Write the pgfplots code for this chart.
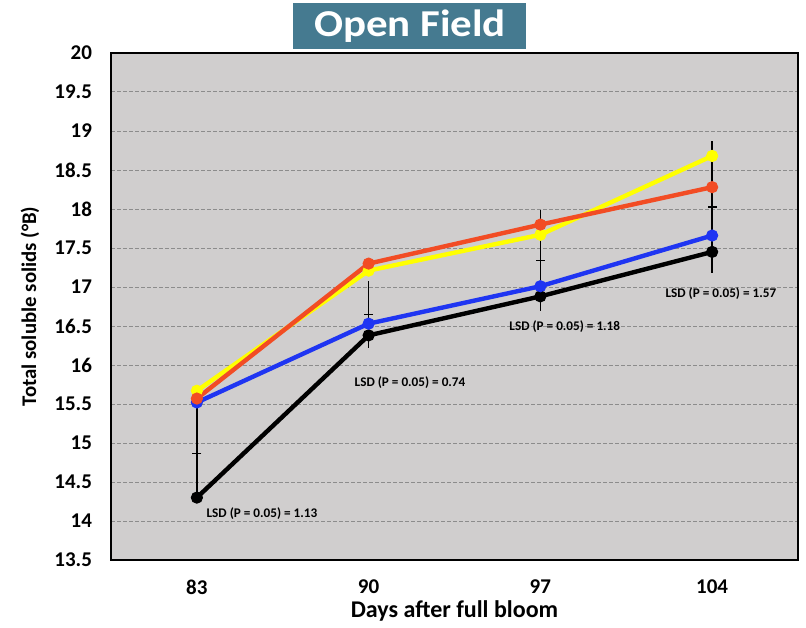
\documentclass[border=0pt]{standalone}
\usepackage{fontspec}
\setmainfont{Carlito}
\usepackage{graphicx}
\usepackage{pgfplots}
\pgfplotsset{compat=1.18}

\definecolor{plotbg}{HTML}{D0CECE}
\definecolor{tealbox}{HTML}{457A90}
\definecolor{gridgray}{HTML}{8C8C8C}
\definecolor{serblue}{HTML}{1F35F2}
\definecolor{serred}{HTML}{F24C24}
\definecolor{seryel}{HTML}{FFFF00}

\begin{document}
\begin{tikzpicture}
\begin{axis}[
  scale only axis,
  width=343.5pt, height=253.5pt,
  xmin=-0.5, xmax=3.5, ymin=13.5, ymax=20,
  xtick={0,1,2,3}, xticklabels={83,90,97,104},
  ytick={13.5,14,14.5,15,15.5,16,16.5,17,17.5,18,18.5,19,19.5,20},
  major tick length=0pt,
  axis background/.style={fill=plotbg},
  axis line style={black, line width=1pt},
  ymajorgrids,
  grid style={gridgray, line width=0.5pt, dash pattern=on 2pt off 1pt},
  /pgf/number format/assume math mode=true,
  ticklabel style={font=\fontsize{10.5}{12}\selectfont\bfseries},
  xticklabel style={yshift=-6.5pt},
  yticklabel style={xshift=-6pt},
  clip=false,
  every axis plot/.append style={line width=2.2pt, mark=*, mark size=2.8pt,
    mark options={line width=0.5pt}},
]

% LSD bars: centre value with half the LSD above and below
\addplot[black, line width=0.8pt, mark=-, mark size=2.2pt, only marks,
  mark options={line width=0.8pt},
  error bars/.cd, y dir=both, y explicit,
  error bar style={line width=0.8pt},
  error mark options={mark size=2.2pt, line width=0.8pt}]
  coordinates {
    (0,14.865) +- (0,0.565)
    (1,16.650) +- (0,0.370)
    (2,17.340) +- (0,0.590)
    (3,18.025) +- (0,0.785)
  };

\addplot[black]
  coordinates {(0,14.30) (1,16.38) (2,16.88) (3,17.45)};
\addplot[serblue]
  coordinates {(0,15.52) (1,16.53) (2,17.01) (3,17.66)};
\addplot[seryel]
  coordinates {(0,15.67) (1,17.21) (2,17.67) (3,18.68)};
\addplot[serred]
  coordinates {(0,15.57) (1,17.30) (2,17.80) (3,18.28)};

\begin{scope}[font=\fontsize{6.6}{8}\selectfont\bfseries]
  \node at (axis cs:0.379,14.10) {LSD (P = 0.05) = 1.13};
  \node at (axis cs:1.241,15.77) {LSD (P = 0.05) = 0.74};
  \node at (axis cs:2.142,16.49) {LSD (P = 0.05) = 1.18};
  \node at (axis cs:3.051,16.92) {LSD (P = 0.05) = 1.57};
\end{scope}

% title box
\node[fill=tealbox, text=white, minimum width=116.5pt, minimum height=23pt,
      inner sep=0pt, font=\fontsize{19}{21}\selectfont\bfseries]
  at (rel axis cs:0.4352,1.0533) {\scalebox{1.13}[1]{Open Field}};

% axis titles
\node[font=\fontsize{12}{14}\selectfont\bfseries] at (rel axis cs:0.5,0) [yshift=-25.5pt]
  {Days after full bloom};
\node[font=\fontsize{10.4}{12}\selectfont\bfseries] at (rel axis cs:0,0.5) [xshift=-40.5pt, rotate=90]
  {Total soluble solids (°B)};

\coordinate (plotsw) at (rel axis cs:0,0);
\end{axis}
\pgfresetboundingbox
\path[use as bounding box] (plotsw) ++(-55.5pt,-33.5pt) rectangle ++(403pt,313.5pt);
\end{tikzpicture}
\end{document}
